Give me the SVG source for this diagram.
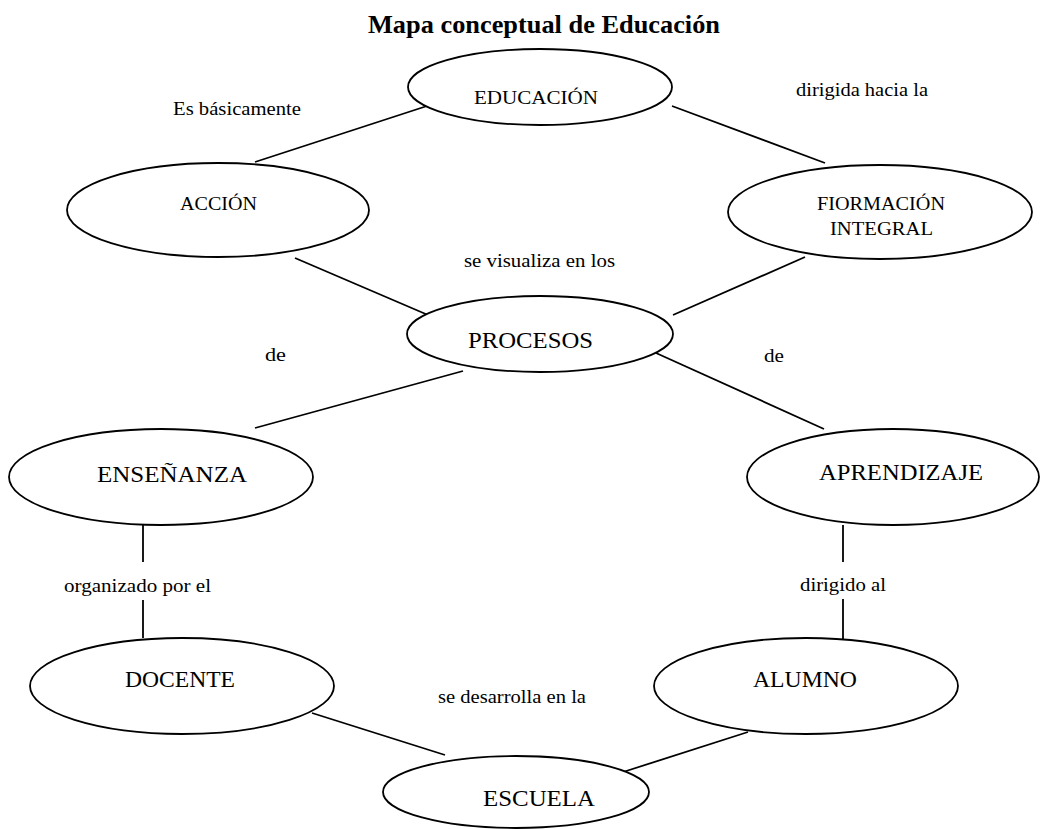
<svg xmlns="http://www.w3.org/2000/svg" width="1041" height="829" viewBox="0 0 1041 829">
<style>
.n{fill:#fff;stroke:#000;stroke-width:1.8}
.c line{stroke:#000;stroke-width:1.8}
text{font-family:"Liberation Serif","Times New Roman",serif;fill:#000}
.t{font-size:26px;font-weight:bold}
.s{font-size:19px}
.b{font-size:23px}
.l{font-size:18px}
</style>
<rect width="1041" height="829" fill="#fff"/>
<text class="t" x="368" y="33" textLength="352" lengthAdjust="spacingAndGlyphs">Mapa conceptual de Educación</text>
<g class="c" id="connectors">
<line x1="427" y1="106" x2="255" y2="162"/>
<line x1="672" y1="106" x2="825" y2="163"/>
<line x1="295" y1="258" x2="428" y2="315"/>
<line x1="805" y1="257" x2="673" y2="315"/>
<line x1="463" y1="371" x2="255" y2="428"/>
<line x1="656" y1="353" x2="824" y2="429"/>
<line x1="143" y1="525" x2="143" y2="562"/>
<line x1="843" y1="525" x2="843" y2="562"/>
<line x1="143" y1="600" x2="143" y2="638"/>
<line x1="843" y1="599" x2="843" y2="639"/>
<line x1="312" y1="713" x2="445" y2="755"/>
<line x1="748" y1="732" x2="620" y2="773"/>
</g>
<g id="labels">
<text class="l" x="173" y="115" textLength="128" lengthAdjust="spacingAndGlyphs">Es básicamente</text>
<text class="l" x="796" y="96" textLength="132" lengthAdjust="spacingAndGlyphs">dirigida hacia la</text>
<text class="l" x="464" y="267" textLength="151" lengthAdjust="spacingAndGlyphs">se visualiza en los</text>
<text class="l" x="265" y="361" textLength="21" lengthAdjust="spacingAndGlyphs">de</text>
<text class="l" x="764" y="362" textLength="20" lengthAdjust="spacingAndGlyphs">de</text>
<text class="l" x="64" y="592" textLength="147" lengthAdjust="spacingAndGlyphs">organizado por el</text>
<text class="l" x="800" y="591" textLength="86" lengthAdjust="spacingAndGlyphs">dirigido al</text>
<text class="l" x="438" y="703" textLength="148" lengthAdjust="spacingAndGlyphs">se desarrolla en la</text>
</g>
<g id="educacion"><ellipse class="n" cx="540" cy="87" rx="132" ry="38"/><text class="s" x="474" y="104" textLength="124" lengthAdjust="spacingAndGlyphs">EDUCACIÓN</text></g>
<g id="accion"><ellipse class="n" cx="218" cy="210" rx="151" ry="47"/><text class="s" x="180" y="210" textLength="77" lengthAdjust="spacingAndGlyphs">ACCIÓN</text></g>
<g id="formacion"><ellipse class="n" cx="880" cy="212" rx="152" ry="47"/><text class="s" x="817" y="210" textLength="128" lengthAdjust="spacingAndGlyphs">FIORMACIÓN</text><text class="s" x="830" y="235" textLength="103" lengthAdjust="spacingAndGlyphs">INTEGRAL</text></g>
<g id="procesos"><ellipse class="n" cx="540" cy="334" rx="133" ry="38"/><text class="b" x="468" y="348" textLength="125" lengthAdjust="spacingAndGlyphs">PROCESOS</text></g>
<g id="ensenanza"><ellipse class="n" cx="161" cy="477" rx="152" ry="48"/><text class="b" x="97" y="482" textLength="150" lengthAdjust="spacingAndGlyphs">ENSEÑANZA</text></g>
<g id="aprendizaje"><ellipse class="n" cx="893" cy="477" rx="146" ry="48"/><text class="b" x="819" y="480" textLength="164" lengthAdjust="spacingAndGlyphs">APRENDIZAJE</text></g>
<g id="docente"><ellipse class="n" cx="182" cy="686" rx="152" ry="48"/><text class="b" x="125" y="687" textLength="110" lengthAdjust="spacingAndGlyphs">DOCENTE</text></g>
<g id="alumno"><ellipse class="n" cx="806" cy="686" rx="152" ry="48"/><text class="b" x="753" y="687" textLength="104" lengthAdjust="spacingAndGlyphs">ALUMNO</text></g>
<g id="escuela"><ellipse class="n" cx="516" cy="792" rx="133" ry="36"/><text class="b" x="483" y="806" textLength="112" lengthAdjust="spacingAndGlyphs">ESCUELA</text></g>
</svg>
